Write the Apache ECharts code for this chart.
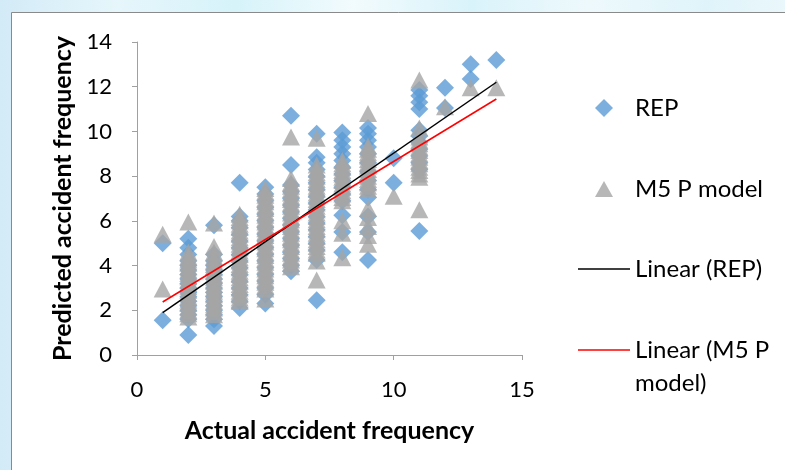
<!DOCTYPE html>
<html>
<head>
<meta charset="utf-8">
<script src="https://cdn.jsdelivr.net/npm/echarts@6/dist/echarts.min.js"></script>
<style>
html,body{margin:0;padding:0;background:#fff;}
#chart{width:785px;height:470px;}
</style>
</head>
<body>
<div id="chart"></div>
<script>
const actual = [1,2,3,4,5,6,7,8,9,10,11,12,13,14];
const repPredicted = [
  [5.0,1.55],
  [0.9,1.6,1.8,2.0,2.2,2.4,2.6,2.8,3.0,3.2,3.4,3.6,3.8,4.0,4.2,4.5,4.8,5.2],
  [1.3,1.6,1.8,2.0,2.2,2.4,2.6,2.8,3.0,3.2,3.4,3.6,3.8,4.0,4.2,4.5,5.8],
  [2.1,2.4,2.7,3.0,3.3,3.6,3.9,4.2,4.5,4.8,5.1,5.4,5.7,6.0,6.2,7.7],
  [2.3,2.7,3.0,3.3,3.6,3.9,4.2,4.5,4.8,5.1,5.4,5.7,6.0,6.3,6.6,6.9,7.2,7.5],
  [3.75,4.0,4.3,4.6,4.9,5.2,5.5,5.8,6.1,6.4,6.7,7.0,7.3,7.6,8.5,10.7],
  [2.45,4.25,4.7,5.0,5.3,5.6,5.9,6.2,6.5,6.8,7.1,7.4,7.7,8.0,8.3,8.6,8.85,9.9],
  [4.6,5.5,6.25,6.9,7.2,7.5,7.8,8.1,8.4,8.7,9.0,9.3,9.6,9.95],
  [4.25,5.5,6.2,7.05,7.4,7.8,8.2,8.6,9.0,9.3,9.6,9.9,10.15],
  [7.7,8.8],
  [5.55,8.3,8.6,8.9,9.2,9.5,9.8,10.05,11.0,11.3,11.6,11.85],
  [11.05,11.95],
  [12.35,13.0],
  [13.2]
];
const m5pPredicted = [
  [2.95,5.4],
  [1.7,1.85,2.0,2.15,2.3,2.45,2.6,2.75,2.9,3.05,3.2,3.35,3.5,3.65,3.8,3.95,4.1,4.25,4.4,4.6,5.95],
  [1.8,1.95,2.1,2.25,2.4,2.55,2.7,2.85,3.0,3.15,3.3,3.45,3.6,3.75,3.9,4.05,4.2,4.4,4.6,4.85,5.9],
  [2.4,2.55,2.7,2.85,3.0,3.15,3.3,3.45,3.6,3.75,3.9,4.05,4.2,4.35,4.5,4.65,4.8,4.95,5.1,5.25,5.4,5.55,5.7,5.85,6.0,6.15,6.3],
  [2.5,2.95,3.1,3.25,3.4,3.55,3.7,3.85,4.0,4.15,4.3,4.45,4.6,4.75,4.9,5.05,5.2,5.35,5.5,5.65,5.8,5.95,6.1,6.25,6.4,6.55,6.7,6.85,7.0,7.15,7.3,7.45],
  [3.95,4.1,4.25,4.4,4.55,4.7,4.85,5.0,5.15,5.3,5.45,5.6,5.75,5.9,6.05,6.2,6.35,6.5,6.65,6.8,6.95,7.1,7.25,7.4,7.55,7.7,7.9,9.75],
  [3.35,4.2,4.55,4.7,4.85,5.0,5.15,5.3,5.45,5.6,5.75,5.9,6.05,6.2,6.35,6.5,6.65,6.8,6.95,7.1,7.25,7.4,7.55,7.7,7.85,8.0,8.15,8.3,8.5,9.7],
  [4.35,5.45,6.0,6.9,7.05,7.2,7.35,7.5,7.65,7.8,7.95,8.1,8.25,8.4,8.55,8.7],
  [4.95,5.35,5.75,6.15,6.55,7.4,7.55,7.7,7.85,8.0,8.15,8.3,8.45,8.6,8.75,8.9,9.05,9.2,9.35,10.8],
  [7.1],
  [6.5,7.95,8.1,8.25,8.4,8.55,8.7,8.85,9.0,9.15,9.3,9.45,9.6,9.75,10.15,12.3],
  [11.1],
  [11.95],
  [11.95]
];
const trendX = [1,14];
const trendRep = [1.9,12.2];
const trendM5p = [2.37,11.45];
const xTicks = [0,5,10,15];
const yTicks = [0,2,4,6,8,10,12,14];
const seriesNames = ['REP','M5 P model','Linear (REP)','Linear (M5 P model)'];

function pairs(xs, groups){
  const out = [];
  groups.forEach((g,i)=>g.forEach(v=>out.push([xs[i], v])));
  return out;
}
const FONT = 'Lato';
const chart = echarts.init(document.getElementById('chart'), null, {renderer:'canvas'});
const axisCol = '#a0a0a0';
const legendText = {fontFamily:FONT, fontSize:24, color:'#000', lineHeight:26};
const option = {
  animation:false,
  backgroundColor:'transparent',
  textStyle:{fontFamily:FONT},
  graphic:[
    {type:'rect', z:-10, silent:true, shape:{x:0,y:0,width:785,height:470},
     style:{fill:new echarts.graphic.LinearGradient(0,0,1,0,[
       {offset:0,color:'#d3ebf7'},{offset:0.15,color:'#e6f6fb'},{offset:0.3,color:'#d6f3fa'},
       {offset:0.45,color:'#f2fbfd'},{offset:0.6,color:'#d9f3fa'},{offset:0.75,color:'#eef9fc'},
       {offset:0.9,color:'#dff4fa'},{offset:1,color:'#eaf7fb'}])}},
    {type:'rect', z:-9, silent:true, shape:{x:11.5,y:12.5,width:780,height:470},
     style:{fill:'#ffffff', stroke:'#8a8a8a', lineWidth:1}}
  ],
  grid:{left:137, right:263, top:42, bottom:115, containLabel:false},
  xAxis:{
    type:'value', min:0, max:15, interval:5,
    name:'Actual accident frequency', nameLocation:'middle', nameGap:63,
    nameTextStyle:{fontFamily:FONT, fontWeight:'bold', fontSize:25, color:'#000'},
    axisLine:{show:true, onZero:false, lineStyle:{color:axisCol, width:1}},
    axisTick:{show:true, length:5, lineStyle:{color:axisCol}},
    splitLine:{show:false},
    axisLabel:{fontFamily:FONT, fontSize:22, color:'#000', margin:24,
      formatter:v=>xTicks.includes(v)?String(v):''}
  },
  yAxis:{
    type:'value', min:0, max:14, interval:2,
    name:'Predicted accident frequency', nameLocation:'middle', nameGap:62, nameRotate:90,
    nameTextStyle:{fontFamily:FONT, fontWeight:'bold', fontSize:25, color:'#000'},
    axisLine:{show:true, onZero:false, lineStyle:{color:axisCol, width:1}},
    axisTick:{show:true, length:5, lineStyle:{color:axisCol}},
    splitLine:{show:false},
    axisLabel:{fontFamily:FONT, fontSize:22, color:'#000', margin:25,
      formatter:v=>yTicks.includes(v)?String(v):''}
  },
  legend:[
    {data:[{name:seriesNames[0], icon:'diamond'}], orient:'vertical', left:595, top:95, padding:0,
     itemWidth:18, itemHeight:18,
     textStyle:Object.assign({}, legendText, {padding:[0,0,0,17]})},
    {data:[{name:seriesNames[1], icon:'triangle'}], orient:'vertical', left:595, top:176, padding:0,
     itemWidth:18, itemHeight:16,
     textStyle:Object.assign({}, legendText, {padding:[0,0,0,17]})},
    {data:[{name:seriesNames[2], icon:'rect', itemStyle:{color:'#000'}}], orient:'vertical', left:578, top:256, padding:0,
     itemWidth:52, itemHeight:1.5,
     textStyle:legendText},
    {data:[{name:seriesNames[3], icon:'rect', itemStyle:{color:'#ff0000'}}], orient:'vertical', left:578, top:300.5, padding:0,
     itemWidth:52, itemHeight:1.5,
     formatter:()=>' \nLinear (M5 P\nmodel)',
     textStyle:Object.assign({}, legendText, {lineHeight:33})}
  ],
  series:[
    {name:seriesNames[0], type:'scatter', symbol:'diamond', symbolSize:18,
     itemStyle:{color:'#5b9bd5'}, data:pairs(actual, repPredicted), z:2},
    {name:seriesNames[1], type:'scatter', symbol:'triangle', symbolSize:[18,17],
     itemStyle:{color:'#a5a5a5'}, data:pairs(actual, m5pPredicted), z:3},
    {name:seriesNames[2], type:'line', symbol:'none', lineStyle:{color:'#000', width:1.5},
     itemStyle:{color:'#000'}, data:trendX.map((x,i)=>[x,trendRep[i]]), z:4},
    {name:seriesNames[3], type:'line', symbol:'none', lineStyle:{color:'#ff0000', width:1.5},
     itemStyle:{color:'#ff0000'}, data:trendX.map((x,i)=>[x,trendM5p[i]]), z:4}
  ]
};
chart.setOption(option);
</script>
</body>
</html>
